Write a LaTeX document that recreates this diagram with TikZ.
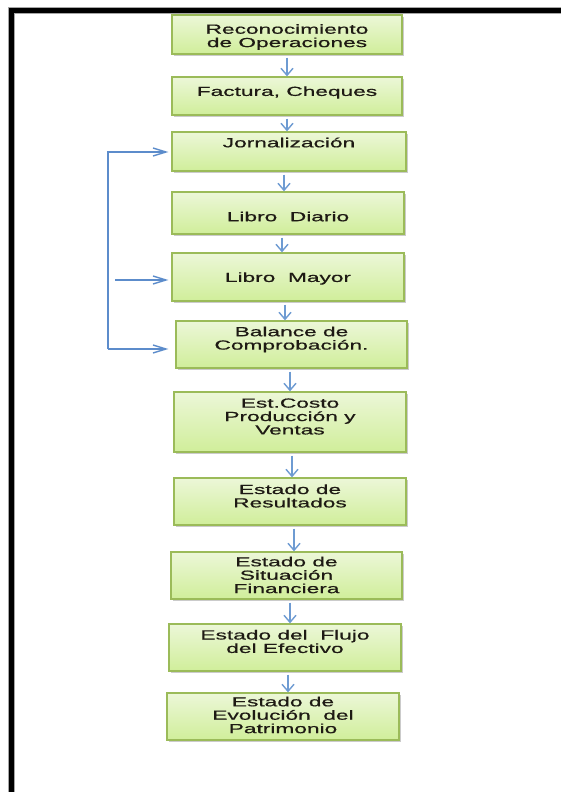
\documentclass[tikz,border=0pt]{standalone}
\usepackage{fontspec}
\usetikzlibrary{arrows.meta,shadows,calc}
\newfontfamily\boxfont[FakeStretch=1.72,FakeBold=0.6]{Liberation Sans}
\definecolor{boxedge}{HTML}{9BBB59}
\definecolor{boxtop}{HTML}{ECF7D8}
\definecolor{boxbot}{HTML}{D0EE9A}
\definecolor{arrblue}{HTML}{6E9BD2}
\definecolor{fbblue}{HTML}{5C8CCB}
\definecolor{txtcol}{HTML}{1E1A14}
\tikzset{
  flowbox/.style={rectangle, draw=boxedge, line width=1.3pt, top color=boxtop, bottom color=boxbot,
    drop shadow={shadow xshift=1.6pt, shadow yshift=-1.6pt, fill=black!45, opacity=0.45}},
  boxtext/.style={font=\boxfont\fontsize{13.2pt}{13.4pt}\selectfont, text=txtcol, align=center, inner sep=0pt},
  downarr/.style={draw=arrblue, line width=1.4pt, -{Straight Barb[length=7pt,width=12pt,line width=1.4pt]}, shorten <=3pt},
  fbline/.style={draw=fbblue, line width=1.4pt},
  fbarr/.style={draw=fbblue, line width=1.4pt, -{Straight Barb[length=13pt,width=8pt,line width=1.4pt]}}
}
\begin{document}
\begin{tikzpicture}[x=1pt,y=-1pt]
\useasboundingbox (0,0) rectangle (561,792);
\fill[white] (0,0) rectangle (561,792);
% frame
\draw[black!35, line width=7pt] (11.5,810) -- (11.5,10.5) -- (580,10.5);
\draw[black, line width=5pt] (11.5,810) -- (11.5,10.5) -- (580,10.5);

% boxes
\node[flowbox, minimum width=230pt, minimum height=39pt] (b1) at (287,34.5) {};
\node[flowbox, minimum width=230pt, minimum height=38pt] (b2) at (287,96) {};
\node[flowbox, minimum width=234pt, minimum height=39pt] (b3) at (289,151.5) {};
\node[flowbox, minimum width=232pt, minimum height=42pt] (b4) at (288,213) {};
\node[flowbox, minimum width=232pt, minimum height=48pt] (b5) at (288,277) {};
\node[flowbox, minimum width=231pt, minimum height=47pt] (b6) at (291.5,344.5) {};
\node[flowbox, minimum width=232pt, minimum height=60pt] (b7) at (290,422) {};
\node[flowbox, minimum width=232pt, minimum height=47pt] (b8) at (290,501.5) {};
\node[flowbox, minimum width=231pt, minimum height=47pt] (b9) at (286.5,575.5) {};
\node[flowbox, minimum width=232pt, minimum height=47pt] (b10) at (285,647.5) {};
\node[flowbox, minimum width=232pt, minimum height=47pt] (b11) at (283,716.5) {};

% texts
\node[boxtext] (t1) at (287,37) {Reconocimiento\\de Operaciones};
\node[boxtext] (t2) at (287,92.5) {Factura, Cheques};
\node[boxtext] (t3) at (289,142.5) {Jornalización};
\node[boxtext] (t4) at (288,216.5) {Libro\ \ Diario};
\node[boxtext] (t5) at (288,278.5) {Libro\ \ Mayor};
\node[boxtext] (t6) at (291.5,339.5) {Balance de\\Comprobación.};
\node[boxtext] (t7) at (290,416.5) {Est.Costo\\Producción y\\Ventas};
\node[boxtext] (t8) at (290,496) {Estado de\\Resultados};
\node[boxtext] (t9) at (286.5,575) {Estado de\\Situación\\Financiera};
\node[boxtext] (t10) at (285,641.5) {Estado del\ \ Flujo\\del Efectivo};
\node[boxtext] (t11) at (283,715) {Estado de\\Evolución\ \ del\\Patrimonio};

% vertical arrows
\draw[downarr] (b1.south) -- (b1.south |- b2.north);
\draw[downarr] (b2.south) -- (b2.south |- b3.north);
\draw[downarr] ([xshift=-5pt]b3.south) -- ([xshift=-5pt]b3.south |- b4.north);
\draw[downarr] ([xshift=-6pt]b4.south) -- ([xshift=-6pt]b4.south |- b5.north);
\draw[downarr] ([xshift=-3pt]b5.south) -- ([xshift=-3pt]b5.south |- b6.north);
\draw[downarr] ([xshift=-1.5pt]b6.south) -- ([xshift=-1.5pt]b6.south |- b7.north);
\draw[downarr] ([xshift=2pt]b7.south) -- ([xshift=2pt]b7.south |- b8.north);
\draw[downarr] ([xshift=4pt]b8.south) -- ([xshift=4pt]b8.south |- b9.north);
\draw[downarr] ([xshift=3.5pt]b9.south) -- ([xshift=3.5pt]b9.south |- b10.north);
\draw[downarr] ([xshift=3pt]b10.south) -- ([xshift=3pt]b10.south |- b11.north);

% feedback lines on the left
\coordinate (lt) at (108,152);
\coordinate (lb) at (108,349);
\coordinate (lm) at (115,280);
\draw[fbarr, shorten >=3pt] (lb) -- (lt) -- (lt -| b3.west);
\draw[fbarr, shorten >=3pt] (lm) -- (lm -| b5.west);
\draw[fbarr, shorten >=7pt] (lb) -- (lb -| b6.west);
\end{tikzpicture}
\end{document}
